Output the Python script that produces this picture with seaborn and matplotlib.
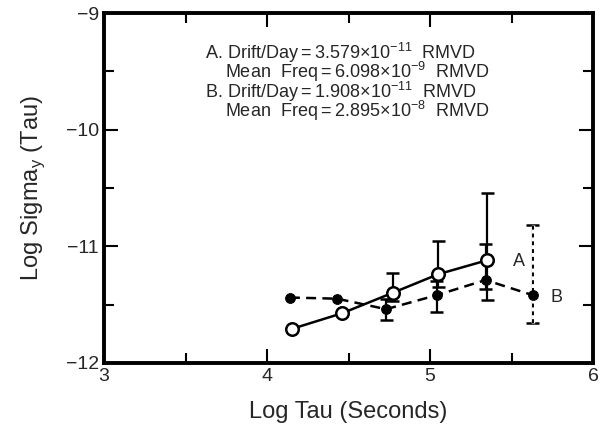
import numpy as np
import pandas as pd
import seaborn as sns
import matplotlib
matplotlib.use("Agg")
import matplotlib.pyplot as plt
from matplotlib.ticker import MultipleLocator

# series A (open circles, solid line)
a_x = [4.15, 4.46, 4.77, 5.05, 5.35]
a_y = [-11.71, -11.575, -11.40, -11.24, -11.12]
a_hi = [np.nan, np.nan, -11.23, -10.955, -10.54]
a_lo = [np.nan, np.nan, -11.47, -11.35, -11.46]

# series B (filled dots, dashed line)
b_x = [4.14, 4.43, 4.73, 5.04, 5.34, 5.63]
b_y = [-11.44, -11.45, -11.54, -11.42, -11.29, -11.42]
b_hi = [np.nan, np.nan, -11.45, -11.30, -10.98, -10.82]
b_lo = [np.nan, np.nan, -11.63, -11.56, -11.37, -11.66]

notes = [
    r"A. Drift/Day$=$3.579$\times$10$^{\mathregular{-11}}$  RMVD",
    r"    Mean  Freq$=$6.098$\times$10$^{\mathregular{-9}}$  RMVD",
    r"B. Drift/Day$=$1.908$\times$10$^{\mathregular{-11}}$  RMVD",
    r"    Mean  Freq$=$2.895$\times$10$^{\mathregular{-8}}$  RMVD",
]

sns.set_style("ticks")
plt.rcParams["font.family"] = ["Liberation Sans", "DejaVu Sans"]
plt.rcParams["mathtext.fontset"] = "custom"
plt.rcParams["mathtext.rm"] = "Liberation Sans"

df_a = pd.DataFrame({"x": a_x, "y": a_y, "hi": a_hi, "lo": a_lo})
df_b = pd.DataFrame({"x": b_x, "y": b_y, "hi": b_hi, "lo": b_lo})

fig = plt.figure(figsize=(6.01, 4.34), dpi=100)
ax = fig.add_axes([0.173, 0.164, 0.814, 0.806])

# error bars
for df in [df_a, df_b]:
    sub = df.dropna()
    ax.vlines(sub["x"], sub["lo"], sub["hi"], color="black", lw=1.6)
    ax.hlines(sub["hi"], sub["x"] - 0.04, sub["x"] + 0.04, color="black", lw=1.8)
    ax.hlines(sub["lo"], sub["x"] - 0.04, sub["x"] + 0.04, color="black", lw=1.8)

sns.lineplot(data=df_b, x="x", y="y", ax=ax, color="black", lw=1.8,
             linestyle=(0, (4, 2.5)), marker="o", markersize=7,
             markerfacecolor="black", markeredgecolor="black", zorder=3)
sns.lineplot(data=df_a, x="x", y="y", ax=ax, color="black", lw=1.8,
             marker="o", markersize=9, markerfacecolor="white",
             markeredgecolor="black", markeredgewidth=1.8, zorder=4)

# last B bar is dotted
last = df_b.iloc[-1]
ax.vlines(last["x"], last["lo"], last["hi"], color="white", lw=2.5, zorder=2)
ax.vlines(last["x"], last["lo"], last["hi"], color="black", lw=1.4,
          linestyles=(0, (2, 2)), zorder=2)

ax.text(5.51, -11.13, "A", fontsize=13, va="center", ha="left")
ax.text(5.74, -11.44, "B", fontsize=13, va="center", ha="left")

ax.text(3.62, -9.24, "\n".join(notes), fontsize=13, va="top", ha="left",
        linespacing=0.73)

ax.set_xlim(3, 6)
ax.set_ylim(-12, -9)
ax.xaxis.set_major_locator(MultipleLocator(1))
ax.xaxis.set_minor_locator(MultipleLocator(0.5))
ax.yaxis.set_minor_locator(MultipleLocator(0.5))
ax.set_yticks([-12, -11, -10, -9])
ax.set_yticklabels(["\u221212", "\u221211", "\u221210", "\u22129"])
ax.tick_params(which="both", direction="in", top=True, right=True,
               width=1.5, labelsize=14, color="black")
ax.tick_params(which="major", length=10)
ax.tick_params(which="minor", length=7)
for s in ax.spines.values():
    s.set_linewidth(2.8)
    s.set_color("black")

ax.set_xlabel("Log Tau (Seconds)", fontsize=17, labelpad=12)
ax.set_ylabel(r"Log Sigma$_{\mathregular{y}}$ (Tau)", fontsize=17, labelpad=14)

fig.savefig("out.png", dpi=100)
